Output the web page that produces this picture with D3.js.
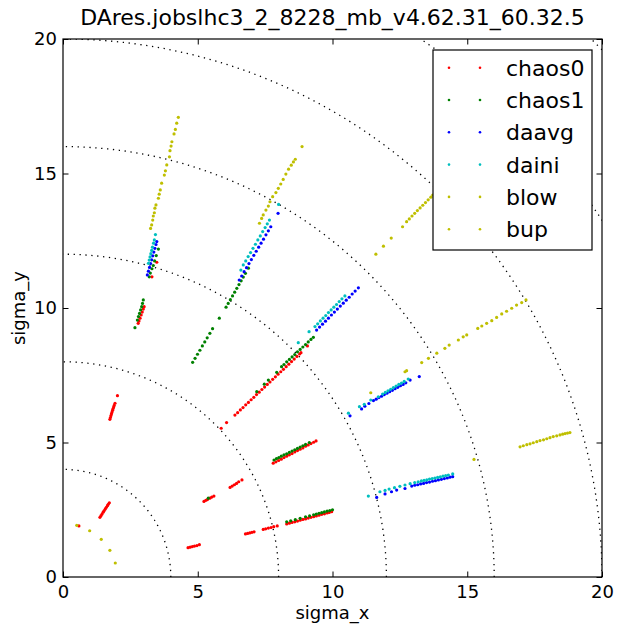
<!DOCTYPE html>
<html>
<head>
<meta charset="utf-8">
<script src="https://cdn.jsdelivr.net/npm/d3@7"></script>
<style>
  body { margin: 0; background: #fff; }
  svg { display: block; }
  text { font-family: "DejaVu Sans", "Liberation Sans", sans-serif; fill: #000; }
</style>
</head>
<body>
<svg id="chart" width="618" height="625"></svg>
<script>
// Dynamic-aperture results per amplitude scan ray, in units of sigma: [sigma_x, sigma_y]
const chaos0 = [
  [0.59,1.90],
  [1.37,2.22],[1.41,2.28],[1.45,2.34],[1.49,2.41],[1.53,2.47],[1.57,2.53],[1.61,2.59],[1.65,2.65],[1.68,2.70],[1.72,2.76],
  [1.74,5.86],[1.76,5.93],[1.78,6.00],[1.80,6.07],[1.82,6.13],[1.84,6.20],[1.86,6.26],[1.88,6.32],[1.90,6.38],[1.93,6.46],[2.02,6.74],
  [2.79,9.43],[2.82,9.52],[2.86,9.62],[2.90,9.74],[2.94,9.85],[2.98,9.96],[3.01,10.05],
  [3.30,11.16],[3.48,11.70],
  [5.87,5.53],[6.07,5.74],
  [6.38,6.02],[6.48,6.11],[6.58,6.21],[6.68,6.30],[6.78,6.40],[6.88,6.49],[6.98,6.59],[7.08,6.68],[7.18,6.78],[7.28,6.87],
  [7.38,6.97],[7.48,7.06],[7.58,7.16],[7.68,7.25],[7.78,7.35],[7.88,7.44],[7.98,7.54],[8.08,7.63],[8.18,7.72],[8.28,7.82],
  [8.38,7.91],[8.48,8.01],[8.58,8.10],[8.68,8.20],[8.78,8.29],[8.83,8.34],[9.07,8.59],
  [5.23,2.81],[5.30,2.85],[5.36,2.88],[5.45,2.93],[5.52,2.97],[5.60,3.01],
  [6.20,3.33],[6.28,3.38],[6.36,3.43],[6.44,3.48],[6.52,3.54],[6.64,3.61],
  [7.80,4.23],[7.90,4.28],[8.00,4.33],[8.10,4.38],[8.20,4.44],[8.30,4.49],[8.40,4.54],[8.50,4.59],[8.60,4.65],
  [8.70,4.70],[8.80,4.75],[8.90,4.80],[9.00,4.86],[9.10,4.91],[9.20,4.96],[9.30,5.01],[9.39,5.06],
  [4.64,1.09],[4.72,1.11],[4.80,1.13],[4.88,1.15],[4.97,1.17],[5.06,1.20],
  [6.77,1.60],[6.85,1.62],[6.93,1.64],[7.01,1.66],[7.09,1.68],
  [7.43,1.77],[7.52,1.79],[7.62,1.82],[7.72,1.84],[7.82,1.87],[7.95,1.90],
  [8.30,1.97],[8.40,2.00],[8.50,2.03],[8.60,2.05],[8.70,2.08],[8.80,2.11],[8.90,2.14],[9.00,2.16],[9.10,2.19],
  [9.20,2.22],[9.30,2.24],[9.40,2.27],[9.50,2.30],[9.60,2.33],[9.70,2.35],[9.80,2.38],[9.88,2.40],[9.97,2.43]
];

const chaos1 = [
  [2.67,9.27],[2.76,9.55],[2.80,9.68],[2.84,9.80],[2.88,9.93],[2.92,10.05],[2.95,10.17],[2.98,10.30],
  [3.20,11.16],[3.24,11.30],[3.30,11.46],[3.35,11.58],[3.40,11.75],[3.46,11.95],[3.54,12.19],
  [4.81,7.98],[4.90,8.13],[4.99,8.28],[5.08,8.43],[5.17,8.59],[5.26,8.74],[5.35,8.89],[5.45,9.06],[5.55,9.23],
  [5.80,9.62],
  [6.05,10.03],[6.13,10.17],[6.21,10.31],[6.29,10.45],[6.37,10.59],[6.45,10.73],[6.53,10.87],[6.61,11.01],[6.69,11.15],[6.77,11.29],[6.88,11.48],
  [7.19,6.89],[7.47,7.17],[7.62,7.32],[7.93,7.61],
  [8.11,7.82],[8.20,7.90],[8.30,8.00],[8.40,8.09],[8.50,8.18],[8.60,8.27],[8.70,8.37],[8.80,8.46],[8.90,8.55],
  [9.00,8.64],[9.10,8.74],[9.20,8.83],[9.29,8.91],
  [5.39,2.93],
  [7.83,4.35],[7.92,4.40],[8.01,4.44],[8.10,4.49],[8.20,4.54],[8.30,4.58],[8.40,4.63],[8.50,4.68],[8.60,4.73],
  [8.70,4.78],[8.80,4.83],[8.90,4.88],[9.00,4.93],[9.14,5.00],
  [8.30,2.05],[8.45,2.09],[8.62,2.13],[8.80,2.18],[9.00,2.24],[9.15,2.27],[9.30,2.31],[9.40,2.34],[9.50,2.37],
  [9.60,2.39],[9.70,2.42],[9.80,2.45],[9.90,2.47],[10.00,2.50]
];

const daavg = [
  [3.13,11.23],[3.17,11.37],[3.21,11.51],[3.25,11.65],[3.29,11.79],[3.33,11.94],[3.37,12.08],[3.41,12.22],[3.45,12.36],[3.48,12.47],
  [6.54,11.04],[6.63,11.19],[6.72,11.35],[6.81,11.50],[6.90,11.65],[6.99,11.80],[7.08,11.96],[7.17,12.11],[7.26,12.26],
  [7.35,12.41],[7.44,12.56],[7.53,12.72],[7.62,12.87],[7.71,13.02],[7.98,13.52],
  [9.41,9.18],[9.52,9.29],[9.63,9.40],[9.74,9.51],[9.85,9.62],[9.96,9.74],[10.07,9.85],[10.18,9.96],[10.29,10.07],
  [10.40,10.18],[10.51,10.29],[10.62,10.40],[10.73,10.52],[10.84,10.63],[10.96,10.75],
  [10.65,5.99],[11.08,6.25],[11.20,6.35],[11.35,6.45],[11.52,6.56],[11.62,6.61],[11.72,6.67],[11.82,6.72],[11.92,6.78],
  [12.02,6.83],[12.12,6.89],[12.22,6.94],[12.32,7.00],[12.42,7.05],[12.52,7.11],[12.62,7.16],[12.72,7.22],[12.88,7.32],[13.22,7.45],
  [11.64,2.96],[11.95,3.09],[12.19,3.17],[12.38,3.23],[12.69,3.29],
  [12.94,3.38],[13.05,3.41],[13.16,3.43],[13.27,3.46],[13.38,3.48],[13.49,3.51],[13.60,3.53],[13.71,3.56],
  [13.82,3.58],[13.93,3.61],[14.04,3.63],[14.15,3.66],[14.26,3.68],[14.36,3.71],[14.46,3.73]
];

const daini = [
  [3.17,11.66],[3.20,11.78],[3.23,11.90],[3.26,12.02],[3.29,12.14],[3.32,12.26],[3.36,12.41],[3.39,12.53],[3.43,12.73],
  [6.60,11.41],[6.69,11.60],[6.78,11.75],[6.87,11.91],[6.96,12.06],[7.05,12.22],[7.14,12.37],[7.23,12.53],[7.32,12.68],
  [7.41,12.84],[7.50,12.99],[7.58,13.13],[7.66,13.27],[8.00,13.85],
  [8.73,8.71],[9.13,9.12],
  [9.35,9.31],[9.45,9.41],[9.55,9.52],[9.65,9.62],[9.75,9.72],[9.85,9.83],[9.95,9.93],[10.05,10.03],[10.15,10.13],
  [10.25,10.24],[10.35,10.34],[10.46,10.45],
  [10.59,6.09],[11.00,6.33],[11.18,6.42],[11.42,6.58],[11.70,6.70],
  [11.86,6.80],[11.96,6.86],[12.06,6.92],[12.16,6.98],[12.26,7.04],[12.36,7.10],[12.46,7.16],[12.56,7.21],[12.66,7.27],[12.81,7.36],
  [11.33,3.01],[11.76,3.17],[11.95,3.22],[12.10,3.27],[12.30,3.32],[12.50,3.37],[12.69,3.42],[12.88,3.47],[13.05,3.51],
  [13.18,3.54],[13.30,3.57],[13.40,3.59],[13.50,3.61],[13.60,3.64],[13.70,3.66],[13.80,3.68],[13.90,3.70],[14.00,3.72],
  [14.10,3.75],[14.20,3.77],[14.30,3.79],[14.46,3.83]
];

const blow = [
  [0.51,1.92],[0.99,1.72],[1.42,1.40],[1.74,0.99],[1.94,0.52]
];

const bup = [
  [3.25,12.96],[3.29,13.09],[3.33,13.27],[3.35,13.42],[3.39,13.54],[3.41,13.71],[3.45,13.83],[3.54,14.08],[3.57,14.23],
  [3.61,14.39],[3.66,14.64],[3.76,14.94],[3.80,15.10],[3.85,15.32],[3.95,15.62],[3.97,15.85],[4.01,16.02],[4.04,16.18],
  [4.12,16.47],[4.17,16.64],[4.22,16.87],[4.28,17.09],
  [7.29,13.15],[7.37,13.33],[7.43,13.46],[7.53,13.64],[7.62,13.79],[7.68,13.95],[7.78,14.14],[7.90,14.29],[7.99,14.45],
  [8.08,14.61],[8.17,14.78],[8.27,14.98],[8.37,15.16],[8.47,15.31],[8.55,15.43],[8.62,15.53],[8.87,16.00],
  [11.61,12.00],[11.89,12.30],[12.18,12.60],[12.60,13.02],
  [12.75,13.21],[12.85,13.31],[12.95,13.42],[13.05,13.52],[13.15,13.62],[13.25,13.72],[13.35,13.82],[13.45,13.92],
  [13.55,14.02],[13.65,14.12],[13.72,14.20],
  [11.42,6.85],[12.69,7.63],[12.75,7.67],[13.31,7.97],[13.56,8.13],[13.87,8.32],[14.17,8.50],[14.33,8.62],[14.67,8.81],
  [14.85,8.93],[14.98,9.00],[15.39,9.24],[15.54,9.33],[15.72,9.43],[15.91,9.53],[16.09,9.65],[16.28,9.78],[16.46,9.88],
  [16.65,9.99],[16.83,10.11],[17.02,10.20],[17.18,10.30],
  [15.25,4.37],
  [16.96,4.84],[17.08,4.88],[17.21,4.92],[17.33,4.95],[17.45,4.99],[17.58,5.03],[17.70,5.07],[17.83,5.10],[17.95,5.14],
  [18.07,5.18],[18.19,5.22],[18.32,5.25],[18.44,5.28],[18.54,5.31],[18.63,5.33],[18.72,5.35],[18.81,5.37]
];

const seriesNames  = ["chaos0", "chaos1", "daavg", "daini", "blow", "bup"];
const seriesData   = [chaos0, chaos1, daavg, daini, blow, bup];
const seriesColors = ["#ff0000", "#008000", "#0000ff", "#00bfbf", "#bfbf00", "#bfbf00"];

// Reference amplitude circles (sigma)
const circleRadii = [4, 8, 12, 16, 20, 24, 28];
const tickValues  = [0, 5, 10, 15, 20];
const titleText   = "DAres.jobslhc3_2_8228_mb_v4.62.31_60.32.5";

const svg = d3.select("#chart");
const margin = { left: 63, right: 16, top: 39, bottom: 48 };
const W = 618, H = 625;
const x = d3.scaleLinear().domain([0, 20]).range([margin.left, W - margin.right]);
const y = d3.scaleLinear().domain([0, 20]).range([H - margin.bottom, margin.top]);

svg.append("rect").attr("width", W).attr("height", H).attr("fill", "#fff");

svg.append("defs").append("clipPath").attr("id", "plot-clip")
  .append("rect")
  .attr("x", x(0)).attr("y", y(20))
  .attr("width", x(20) - x(0)).attr("height", y(0) - y(20));

const plot = svg.append("g").attr("clip-path", "url(#plot-clip)");

// dotted circles of constant amplitude
const angles = d3.range(0, 90.5, 0.5).map(a => a * Math.PI / 180);
const arcLine = d3.line().x(d => x(d[0])).y(d => y(d[1]));
plot.selectAll("path.ring")
  .data(circleRadii)
  .join("path")
  .attr("class", "ring")
  .attr("d", r => arcLine(angles.map(a => [r * Math.cos(a), r * Math.sin(a)])))
  .attr("fill", "none")
  .attr("stroke", "#000")
  .attr("stroke-width", 1.3)
  .attr("stroke-dasharray", "1.3 4.6");

// scatter points, one group per series
seriesData.forEach((pts, i) => {
  plot.append("g")
    .selectAll("circle")
    .data(pts)
    .join("circle")
    .attr("cx", d => x(d[0]))
    .attr("cy", d => y(d[1]))
    .attr("r", 1.6)
    .attr("fill", seriesColors[i]);
});

// axes with inward ticks on all four sides
const tickLen = 5.5;
const fontTick = 18;
svg.append("g")
  .attr("transform", `translate(0,${y(0)})`)
  .call(d3.axisBottom(x).tickValues(tickValues).tickSizeInner(-tickLen).tickSizeOuter(0).tickPadding(8).tickFormat(d3.format("d")))
  .call(g => g.select(".domain").remove())
  .call(g => g.selectAll("text").attr("font-size", fontTick).attr("font-family", "DejaVu Sans").attr("fill", "#000"));
svg.append("g")
  .attr("transform", `translate(0,${y(20)})`)
  .call(d3.axisTop(x).tickValues(tickValues).tickSizeInner(-tickLen).tickSizeOuter(0).tickFormat(""))
  .call(g => g.select(".domain").remove());
svg.append("g")
  .attr("transform", `translate(${x(0)},0)`)
  .call(d3.axisLeft(y).tickValues(tickValues).tickSizeInner(-tickLen).tickSizeOuter(0).tickPadding(6).tickFormat(d3.format("d")))
  .call(g => g.select(".domain").remove())
  .call(g => g.selectAll("text").attr("font-size", fontTick).attr("font-family", "DejaVu Sans").attr("fill", "#000"));
svg.append("g")
  .attr("transform", `translate(${x(20)},0)`)
  .call(d3.axisRight(y).tickValues(tickValues).tickSizeInner(-tickLen).tickSizeOuter(0).tickFormat(""))
  .call(g => g.select(".domain").remove());
svg.selectAll(".tick line").attr("stroke", "#000").attr("stroke-width", 1);

// frame
svg.append("rect")
  .attr("x", x(0)).attr("y", y(20))
  .attr("width", x(20) - x(0)).attr("height", y(0) - y(20))
  .attr("fill", "none").attr("stroke", "#000").attr("stroke-width", 1.2);

// title and axis labels
svg.append("text")
  .attr("x", (x(0) + x(20)) / 2).attr("y", 25)
  .attr("text-anchor", "middle").attr("font-size", 22)
  .text(titleText);
svg.append("text")
  .attr("x", (x(0) + x(20)) / 2).attr("y", 619)
  .attr("text-anchor", "middle").attr("font-size", 18)
  .text("sigma_x");
svg.append("text")
  .attr("transform", `translate(25,${(y(0) + y(20)) / 2}) rotate(-90)`)
  .attr("text-anchor", "middle").attr("font-size", 18)
  .text("sigma_y");

// legend
const leg = svg.append("g");
const legX = 433, legY = 50, legW = 159, legH = 200, rowH = 32.3;
leg.append("rect")
  .attr("x", legX).attr("y", legY).attr("width", legW).attr("height", legH)
  .attr("fill", "#fff").attr("stroke", "#000").attr("stroke-width", 1.2);
seriesNames.forEach((name, i) => {
  const cy = legY + 17.7 + i * rowH;
  [legX + 16, legX + 47].forEach(cx => {
    leg.append("circle").attr("cx", cx).attr("cy", cy).attr("r", 1.3).attr("fill", seriesColors[i]);
  });
  leg.append("text")
    .attr("x", legX + 73).attr("y", cy + 8)
    .attr("font-size", 22)
    .text(name);
});
</script>
</body>
</html>
